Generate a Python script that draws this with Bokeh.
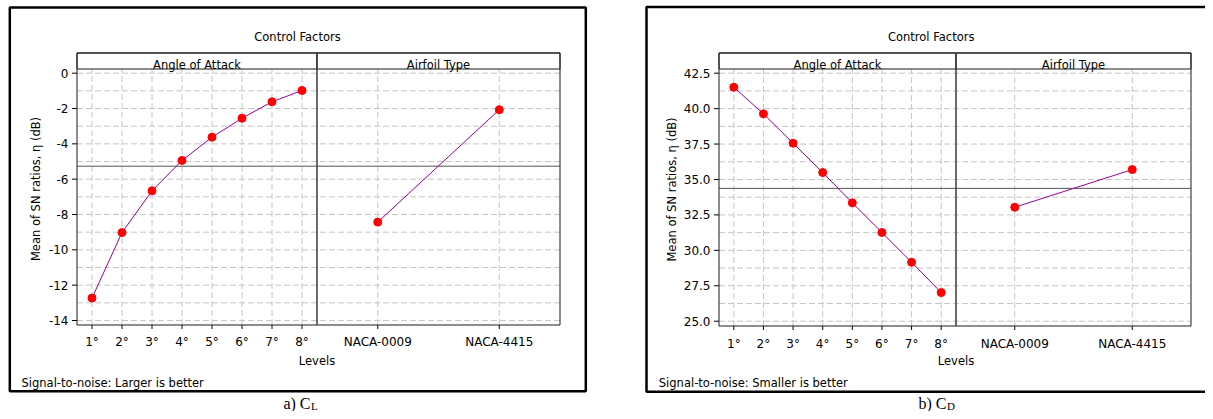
import numpy as np
from bokeh.plotting import figure
from bokeh.models import Range1d
from bokeh.core.properties import value
from bokeh.embed import file_html
from bokeh.resources import INLINE

# ---------------- data ----------------
angle_levels = ["1°", "2°", "3°", "4°", "5°", "6°", "7°", "8°"]
airfoil_levels = ["NACA-0009", "NACA-4415"]

cl_angle_sn = [-12.73, -9.02, -6.66, -4.94, -3.62, -2.55, -1.62, -0.98]
cl_airfoil_sn = [-8.43, -2.07]

cd_angle_sn = [41.51, 39.63, 37.56, 35.49, 33.35, 31.26, 29.16, 27.02]
cd_airfoil_sn = [33.04, 35.70]

cl_y_ticks = [-14, -12, -10, -8, -6, -4, -2, 0]
cl_y_tick_labels = ["-14", "-12", "-10", "-8", "-6", "-4", "-2", "0"]
cl_y_grid = [-14, -13, -12, -11, -10, -9, -8, -7, -6, -5, -4, -3, -2, -1, 0]

cd_y_ticks = [25.0, 27.5, 30.0, 32.5, 35.0, 37.5, 40.0, 42.5]
cd_y_tick_labels = ["25.0", "27.5", "30.0", "32.5", "35.0", "37.5", "40.0", "42.5"]
cd_y_grid = [25.0, 26.25, 27.5, 28.75, 30.0, 31.25, 32.5, 33.75, 35.0,
             36.25, 37.5, 38.75, 40.0, 41.25, 42.5]

factor_names = ["Angle of Attack", "Airfoil Type"]
title_text = "Control Factors"
x_label = "Levels"
y_label = "Mean of SN ratios, η (dB)"
foot_a = "Signal-to-noise: Larger is better"
foot_b = "Signal-to-noise: Smaller is better"

# ---------------- styles ----------------
FONT = value("DejaVu Sans")
SERIF = value("Liberation Serif")
PURPLE = "#990099"
RED = "#ff0000"
GRID = "#c6c6c6"
FRAME = "#1a1a1a"

W, H = 1205, 411
p = figure(width=W, height=H, output_backend="svg", toolbar_location=None, tools="",
           x_range=Range1d(0, W), y_range=Range1d(H, 0),
           x_axis_location=None, y_axis_location=None,
           min_border=0, min_border_left=0, min_border_right=0,
           min_border_top=0, min_border_bottom=0)
p.grid.visible = False
p.outline_line_color = None
p.background_fill_color = "white"
p.border_fill_color = "white"


def txt(api, x, y, t, size="11.5px", font=FONT, **kw):
    api.text(x=x, y=y, text=t, text_font=font, text_font_size=value(size),
             text_color="black", **kw)


def draw_chart(g, angle_vals, air_vals, yticks, ylabels, ygrid, foot_text, cap_main, cap_sub):
    pl, dv, pr = g["pl"], g["dv"], g["pr"]
    ft, hb, fb = g["ft"], g["hb"], g["fb"]
    n_ang, n_air = len(angle_levels), len(airfoil_levels)
    angle_x = list(range(1, n_ang + 1))
    air_x = list(range(1, n_air + 1))

    def sub(xs, xt, ys=None, yt=None):
        ys = ys if ys is not None else g["y_src"]
        yt = yt if yt is not None else g["y_tgt"]
        return p.subplot(x_source=Range1d(*xs), y_source=Range1d(*ys),
                         x_target=Range1d(*xt), y_target=Range1d(*yt))

    ang_src = (0.5, n_ang + 0.5)
    air_src = (0.5, n_air + 0.5)
    ang = sub(ang_src, (pl, dv))
    air = sub(air_src, (dv, pr))
    full = sub((0, 1), (pl, pr))

    # horizontal grid lines across both panels
    full.segment(x0=[0] * len(ygrid), x1=[1] * len(ygrid), y0=ygrid, y1=ygrid,
                 line_color=GRID, line_dash="6 3", line_width=1)
    # vertical grid lines, x ticks and x tick labels
    for src, tgt, xs, labels in ((ang_src, (pl, dv), angle_x, angle_levels),
                                 (air_src, (dv, pr), air_x, airfoil_levels)):
        vg = sub(src, tgt, (0, 1), (fb, hb))
        vg.segment(x0=xs, x1=xs, y0=[0] * len(xs), y1=[1] * len(xs),
                   line_color=GRID, line_dash="6 3", line_width=1)
        tk = sub(src, tgt, (0, 1), (fb, fb + 4))
        tk.segment(x0=xs, x1=xs, y0=[0] * len(xs), y1=[1] * len(xs),
                   line_color="black", line_width=1)
        tl = sub(src, tgt, (0, 1), (fb, fb + g["xl_off"]))
        txt(tl, xs, [1] * len(xs), labels, size="12px",
            text_align="center", text_baseline="alphabetic")

    # overall mean reference line
    mean = float(np.mean(angle_vals))
    full.segment(x0=[0], x1=[1], y0=[mean], y1=[mean], line_color="#555555", line_width=1)

    # y ticks and labels
    yt_ = sub((0, 1), (pl - 5, pl))
    yt_.segment(x0=[0] * len(yticks), x1=[1] * len(yticks), y0=yticks, y1=yticks,
                line_color="black", line_width=1)
    yl_ = sub((0, 1), (pl - 8.5, pl))
    txt(yl_, [0] * len(yticks), yticks, ylabels, size="12px",
        text_align="right", text_baseline="middle")

    # data
    ang.line(angle_x, angle_vals, line_color=PURPLE, line_width=1)
    ang.scatter(angle_x, angle_vals, size=8, marker="circle", fill_color=RED, line_color=RED)
    air.line(air_x, air_vals, line_color=PURPLE, line_width=1)
    air.scatter(air_x, air_vals, size=8, marker="circle", fill_color=RED, line_color=RED)

    # panel frames, header strips, divider
    p.quad(left=[pl, dv], right=[dv, pr], top=[ft, ft], bottom=[hb, hb],
           fill_color="white", line_color=FRAME, line_width=1)
    p.quad(left=[pl], right=[pr], top=[ft], bottom=[fb], fill_color=None,
           line_color=FRAME, line_width=1)
    p.segment(x0=[dv], x1=[dv], y0=[ft], y1=[fb], line_color="#3a3a3a", line_width=1.5)
    txt(p, [(pl + dv) / 2, (dv + pr) / 2], [hb - 4.5, hb - 4.5], factor_names,
        text_align="center", text_baseline="alphabetic")

    # outer box and surrounding texts
    bl, bt, br, bb = g["box"]
    p.quad(left=[bl], right=[br], top=[bt], bottom=[bb], fill_color=None,
           line_color="black", line_width=2.5)
    txt(p, [g["title_x"]], [36.6], [title_text], text_align="center", text_baseline="alphabetic")
    txt(p, [g["ylab_x"]], [(ft + fb) / 2], [y_label], angle=np.pi / 2,
        text_align="center", text_baseline="middle")
    txt(p, [dv], [360.5], [x_label], text_align="center", text_baseline="alphabetic")
    txt(p, [g["foot_x"]], [382], [foot_text], text_align="left", text_baseline="alphabetic")
    txt(p, [g["cap_x"]], [403.3], [cap_main], size="16px", font=SERIF,
        text_align="right", text_baseline="alphabetic")
    txt(p, [g["cap_x"] + 0.5], [405.5], [cap_sub], size="11px", font=SERIF,
        text_align="left", text_baseline="alphabetic")


geom_a = dict(pl=76.5, dv=316.5, pr=559.5, ft=52.5, hb=68.5, fb=324.5,
              y_src=(-14, 0), y_tgt=(320, 72.7), xl_off=17.2,
              box=(9.3, 7, 585.3, 390.8), title_x=297, ylab_x=35, foot_x=21, cap_x=310)
geom_b = dict(pl=718.5, dv=955.5, pr=1190.5, ft=52.5, hb=68.5, fb=325.5,
              y_src=(25.0, 42.5), y_tgt=(320.7, 72.7), xl_off=17.8,
              box=(646, 6.5, 1230, 391.3), title_x=930.7, ylab_x=671.7, foot_x=658.3, cap_x=946)

draw_chart(geom_a, cl_angle_sn, cl_airfoil_sn, cl_y_ticks, cl_y_tick_labels, cl_y_grid,
           foot_a, "a) C", "L")
draw_chart(geom_b, cd_angle_sn, cd_airfoil_sn, cd_y_ticks, cd_y_tick_labels, cd_y_grid,
           foot_b, "b) C", "D")

open("out.html", "w").write(file_html(p, INLINE))
